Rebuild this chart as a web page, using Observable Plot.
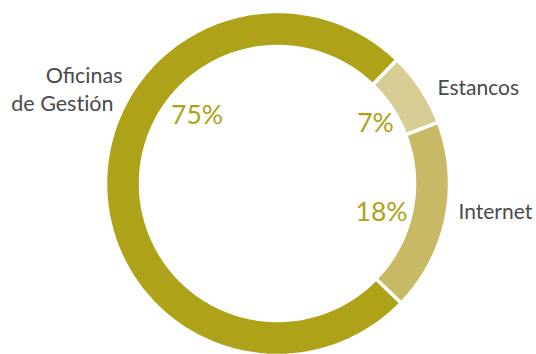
<!DOCTYPE html>
<html>
<head>
<meta charset="utf-8">
<script src="https://cdn.jsdelivr.net/npm/d3@7"></script>
<script src="https://cdn.jsdelivr.net/npm/@observablehq/plot@0.6"></script>
<style>
  html, body { margin: 0; padding: 0; background: #fff; }
  #chart svg { display: block; }
  .noliga text { font-variant-ligatures: none; }
</style>
</head>
<body>
<div id="chart"></div>
<script>
// Data
const categories = ["Oficinas de Gestión", "Estancos", "Internet"];
const values = [75, 7, 18];
const pctLabels = ["75%", "7%", "18%"];
const colors = ["#ADA218", "#D8CE95", "#C8BA64"];

// Geometry (pixel-like units, centre of donut at 0,0, y up)
const R = 172, r = 137;
const startDeg = 134;
const pie = d3.pie().sort(null).value(d => d.value)
  .startAngle(startDeg * Math.PI / 180).endAngle((startDeg + 360) * Math.PI / 180);
const rows = categories.map((name, i) => ({name, value: values[i], pct: pctLabels[i]}));
const arcs = pie(rows);

const pts = [];
arcs.forEach(a => {
  const n = 120;
  const poly = [];
  for (let k = 0; k <= n; k++) {
    const t = a.startAngle + (a.endAngle - a.startAngle) * k / n;
    poly.push([R * Math.sin(t), R * Math.cos(t)]);
  }
  for (let k = n; k >= 0; k--) {
    const t = a.startAngle + (a.endAngle - a.startAngle) * k / n;
    poly.push([r * Math.sin(t), r * Math.cos(t)]);
  }
  poly.push(poly[0]);
  poly.forEach(([x, y]) => pts.push({name: a.data.name, x, y}));
});

// percentage label placement (angle in degrees clockwise from top, radius)
const pctLayout = {"Oficinas de Gestión": [310, 105], "Estancos": [58.5, 115], "Internet": [105.6, 108]};
const pctPos = arcs.map(a => {
  const [deg, rad] = pctLayout[a.data.name];
  const ang = deg * Math.PI / 180;
  return {text: a.data.pct, x: rad * Math.sin(ang), y: rad * Math.cos(ang)};
});

const cx = 277, cy = 183, W = 536, H = 354;
const chart = Plot.plot({
  width: W, height: H, margin: 0,
  x: {domain: [-cx, W - cx], range: [0, W], axis: null},
  y: {domain: [cy, cy - H], range: [0, H], axis: null},
  color: {domain: categories, range: colors},
  style: {fontFamily: "Lato, sans-serif"},
  marks: [
    Plot.line(pts, {x: "x", y: "y", z: "name", fill: "name", stroke: "white", strokeWidth: 3.5, curve: "linear"}),
    Plot.text(pctPos, {x: "x", y: "y", text: "text", fill: "#ADA218", fontSize: 26.5, fontWeight: 400}),
    Plot.text([{t: "Oficinas", x: 122 - cx, y: cy - 76}], {x: "x", y: "y", text: "t", textAnchor: "end", fontSize: 21.5, fill: "#4a4a4a"}),
    Plot.text([{t: "de Gestión", x: 113 - cx, y: cy - 104}], {x: "x", y: "y", text: "t", textAnchor: "end", fontSize: 21.5, fill: "#4a4a4a", className: "noliga"}),
    Plot.text([{t: "Estancos", x: 437 - cx, y: cy - 88}], {x: "x", y: "y", text: "t", textAnchor: "start", fontSize: 21, fill: "#4a4a4a"}),
    Plot.text([{t: "Internet", x: 458 - cx, y: cy - 212}], {x: "x", y: "y", text: "t", textAnchor: "start", fontSize: 21, fill: "#4a4a4a"})
  ]
});
document.getElementById("chart").appendChild(chart);
</script>
</body>
</html>
